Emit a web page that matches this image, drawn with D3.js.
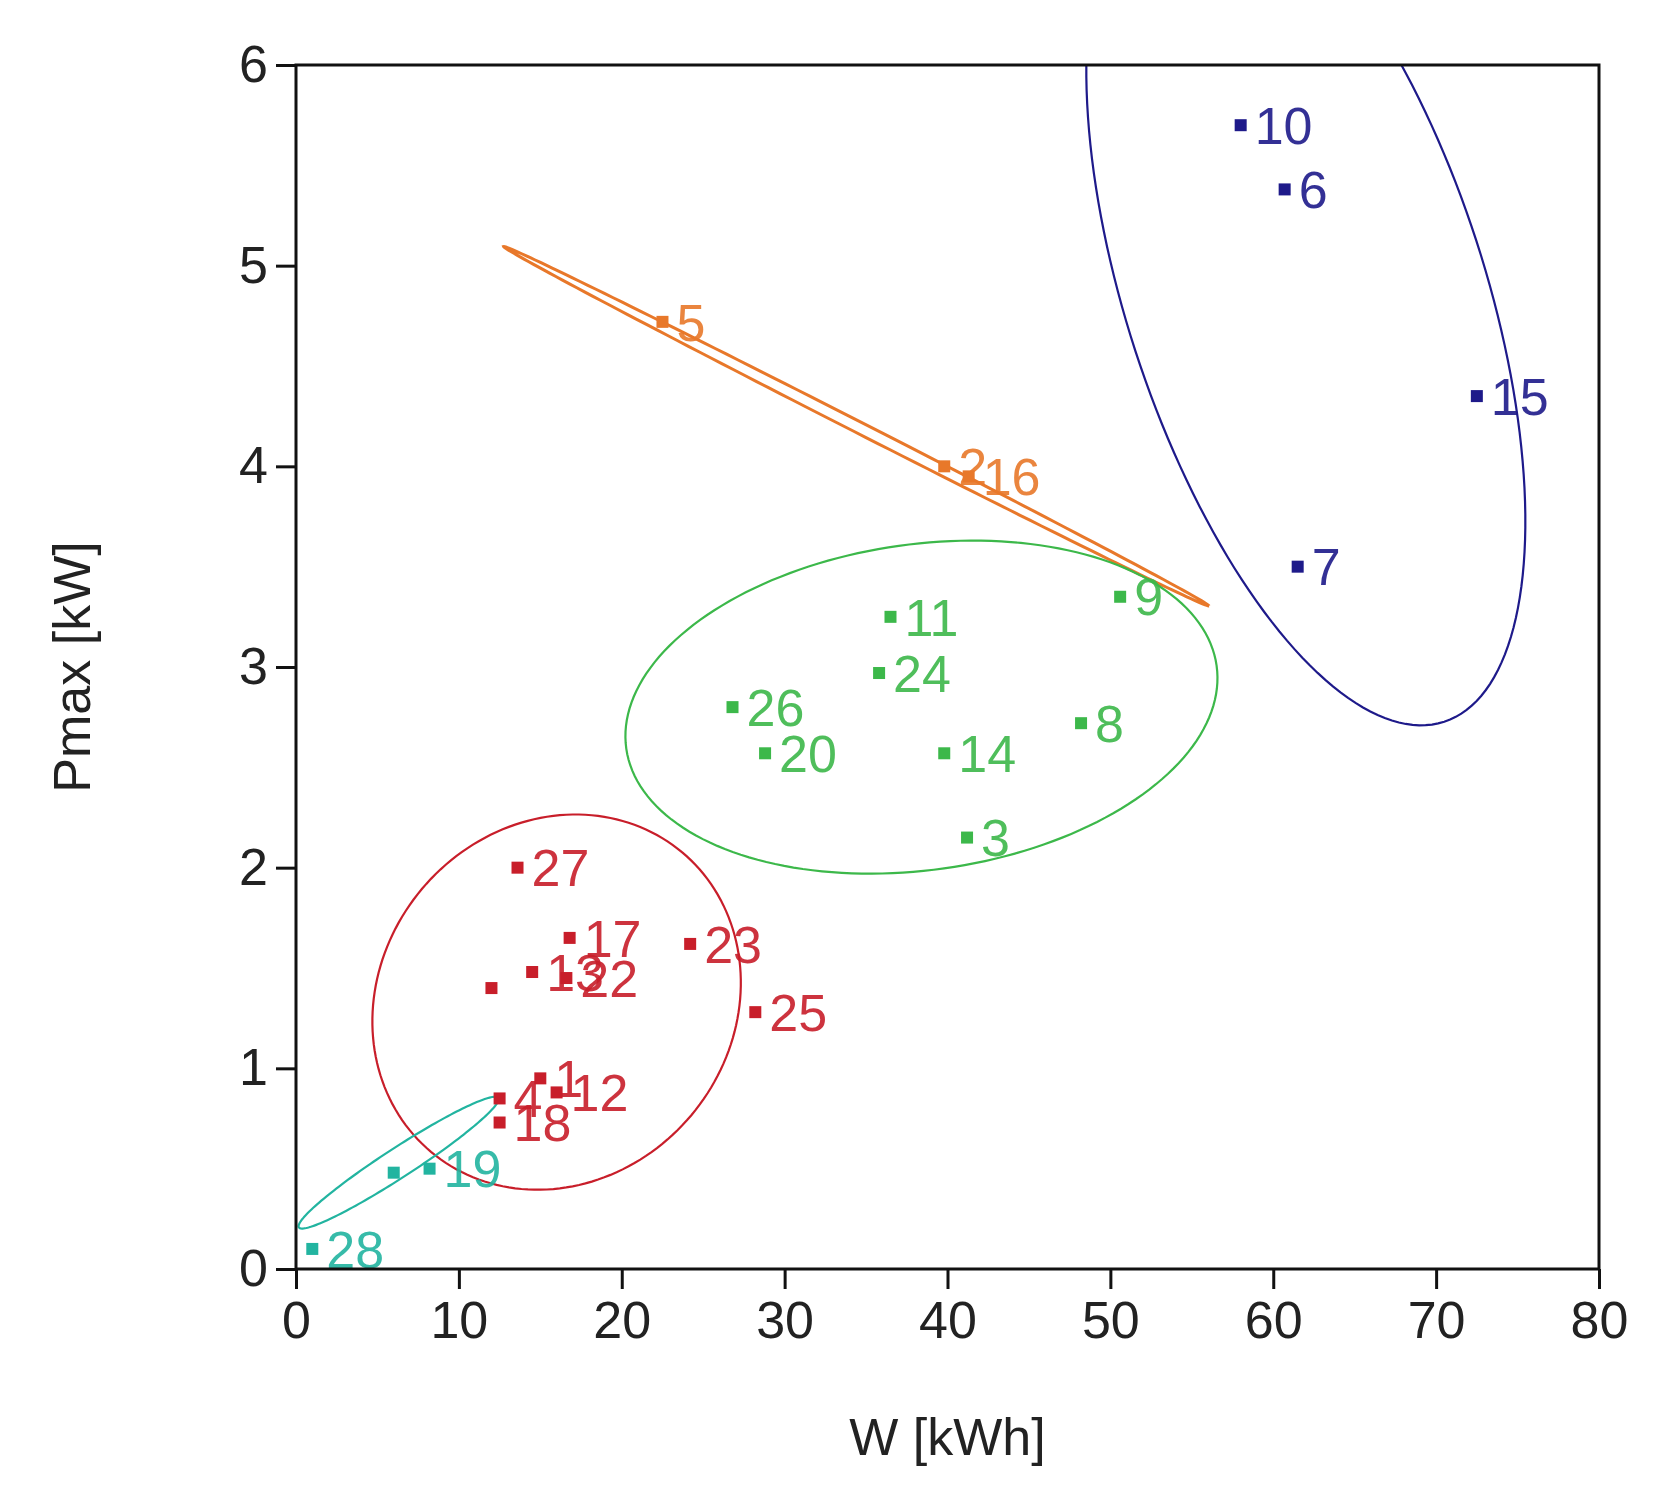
<!DOCTYPE html>
<html><head><meta charset="utf-8">
<script src="https://cdn.jsdelivr.net/npm/d3@7"></script>
<style>body{margin:0;background:#fff}</style></head>
<body><svg id="c" width="1676" height="1499"></svg>
<script>
const xTicks=[0,10,20,30,40,50,60,70,80];
const yTicks=[0,1,2,3,4,5,6];
const groups=["blue","orange","green","red","cyan"];
const colors={blue:"#1e1a8a",orange:"#e8782a",green:"#3cb84a",red:"#c81e2a",cyan:"#22b4a0"};
// points: [W, Pmax, label]
const pointsBlue=[[58,5.7,"10"],[60.7,5.38,"6"],[72.5,4.35,"15"],[61.5,3.5,"7"]];
const pointsOrange=[[22.5,4.72,"5"],[39.8,4.0,"2"],[41.3,3.95,"16"]];
const pointsGreen=[[36.5,3.25,"11"],[35.8,2.97,"24"],[26.8,2.8,"26"],[28.8,2.57,"20"],[39.8,2.57,"14"],[48.2,2.72,"8"],[41.2,2.15,"3"],[50.6,3.35,"9"]];
const pointsRed=[[13.6,2.0,"27"],[16.8,1.65,"17"],[24.2,1.62,"23"],[12.0,1.4,""],[14.5,1.48,"13"],[16.6,1.45,"22"],[28.2,1.28,"25"],[15.0,0.95,"1"],[16.0,0.88,"12"],[12.5,0.85,"4"],[12.5,0.73,"18"]];
const pointsCyan=[[1.0,0.1,"28"],[6.0,0.48,""],[8.2,0.5,"19"]];
// ellipses: [centerW, centerP, semiA (W units), semiB (W units), angle deg, group]
const ellipses=[[62,4.85,27.5,11,108,"blue"],[34.4,4.2,24.3,0.35,-27,"orange"],[38.4,2.8,18.3,10,8,"green"],[16,1.33,12,10.8,50,"red"],[6.3,0.53,7.3,0.9,33,"cyan"]];

const svg=d3.select("#c");
const L=296,R=1599,T=65,B=1269;
const x=d3.scaleLinear().domain([0,80]).range([L,R]);
const y=d3.scaleLinear().domain([0,6]).range([B,T]);
svg.append("defs").append("clipPath").attr("id","clip").append("rect").attr("x",L).attr("y",T).attr("width",R-L).attr("height",B-T);
const unit=x(1)-x(0);
const g=svg.append("g").attr("clip-path","url(#clip)");
ellipses.forEach(e=>{
  const [cx,cy,a,b,ang,grp]=e;
  const px=x(cx),py=y(cy),t=ang*Math.PI/180;
  const pts=d3.range(0,361,2).map(d=>{const th=d*Math.PI/180;const u=a*unit*Math.cos(th),v=b*unit*Math.sin(th);
    return [px+u*Math.cos(t)-v*Math.sin(t),py-(u*Math.sin(t)+v*Math.cos(t))];});
  g.append("path").attr("d",d3.line()(pts)).attr("fill","none").attr("stroke",colors[grp]).attr("stroke-width",grp==="orange"?3:2.2);
});
const all=[[pointsBlue,"blue"],[pointsOrange,"orange"],[pointsGreen,"green"],[pointsRed,"red"],[pointsCyan,"cyan"]];
all.forEach(([arr,grp])=>{
  arr.forEach(p=>{
    svg.append("rect").attr("x",x(p[0])-6).attr("y",y(p[1])-6).attr("width",12).attr("height",12).attr("fill",colors[grp]);
    if(p[2]) svg.append("text").attr("x",x(p[0])+14).attr("y",y(p[1])).attr("dy","0.36em")
      .attr("font-family","Liberation Sans, Arial").attr("font-size",52).attr("fill",colors[grp]).attr("opacity",0.9).text(p[2]);
  });
});
svg.append("rect").attr("x",L).attr("y",T).attr("width",R-L).attr("height",B-T).attr("fill","none").attr("stroke","#111").attr("stroke-width",3);
const xa=svg.append("g").attr("transform",`translate(0,${B})`).call(d3.axisBottom(x).tickValues(xTicks).tickFormat(d3.format("d")).tickSize(20).tickSizeOuter(0).tickPadding(12));
const ya=svg.append("g").attr("transform",`translate(${L},0)`).call(d3.axisLeft(y).tickValues(yTicks).tickFormat(d3.format("d")).tickSize(20).tickSizeOuter(0).tickPadding(8));
[xa,ya].forEach(a=>{a.select(".domain").remove();a.selectAll("line").attr("stroke","#111").attr("stroke-width",3);
  a.selectAll("text").attr("font-family","Liberation Sans, Arial").attr("font-size",52).attr("fill","#222");});
svg.append("text").attr("x",(L+R)/2).attr("y",1455).attr("text-anchor","middle").attr("font-family","Liberation Sans, Arial").attr("font-size",52).attr("fill","#222").text("W [kWh]");
svg.append("text").attr("transform",`translate(90,${(T+B)/2}) rotate(-90)`).attr("text-anchor","middle").attr("font-family","Liberation Sans, Arial").attr("font-size",52).attr("fill","#222").text("Pmax [kW]");
</script></body></html>
